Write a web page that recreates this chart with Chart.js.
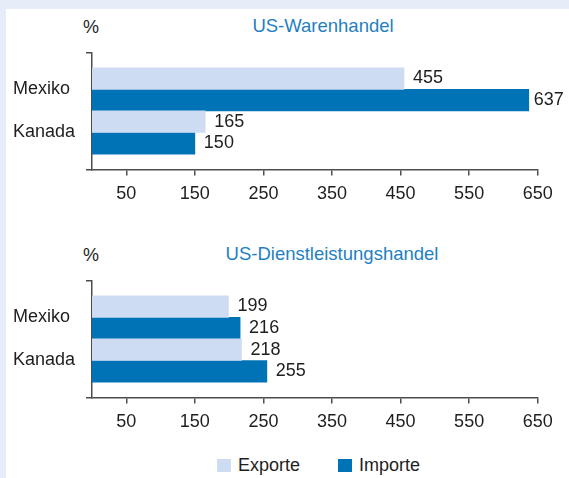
<!DOCTYPE html>
<html>
<head>
<meta charset="utf-8">
<script src="https://cdn.jsdelivr.net/npm/chart.js@4/dist/chart.umd.min.js"></script>
<style>
  html, body { margin: 0; padding: 0; }
  body { width: 569px; height: 478px; background: #e6edf9; position: relative; overflow: hidden;
         font-family: "Liberation Sans", Arial, sans-serif; color: #1e1e1e; }
  #panel { position: absolute; left: 6px; top: 9px; right: 0; bottom: 0; background: #ffffff; }
  canvas { position: absolute; left: 0; }
  .pct { position: absolute; left: 83px; font-size: 18px; line-height: 18px; color: #1e1e1e; }
  .ttl { position: absolute; width: 400px; text-align: center; font-size: 18.5px; line-height: 18.5px; color: #1f7fc1; }
  #legend { position: absolute; left: 217px; top: 456px; display: flex; align-items: center; font-size: 18px; line-height: 18px; }
  .item { display: flex; align-items: center; }
  .box { width: 14px; height: 13px; margin-right: 7px; }
</style>
</head>
<body>
<div id="panel"></div>
<div class="pct" style="top:18px">%</div>
<div class="ttl" style="top:17px; left:123px">US-Warenhandel</div>
<canvas id="c1" width="569" height="210" style="top:0px"></canvas>
<div class="pct" style="top:246px">%</div>
<div class="ttl" style="top:245px; left:132px">US-Dienstleistungshandel</div>
<canvas id="c2" width="569" height="210" style="top:228px"></canvas>
<div id="legend"></div>
<script>
// ---- data ----
const categories = ['Mexiko', 'Kanada'];
const seriesNames = ['Exporte', 'Importe'];
const warenExporte = [455, 165];
const warenImporte = [637, 150];
const dienstExporte = [199, 218];
const dienstImporte = [216, 255];
const xTickValues = [50, 150, 250, 350, 450, 550, 650];

// ---- style ----
const colExport = '#cddcf3';
const colImport = '#0073b7';
const axisColor = '#4d4d4d';
const textColor = '#1e1e1e';
const fontFam = '"Liberation Sans", Arial, sans-serif';
const yMin = 0.143, yMax = 2.857;

const valueLabels = {
  id: 'valueLabels',
  afterDatasetsDraw(chart) {
    const { ctx, chartArea } = chart;
    ctx.save();
    ctx.font = '18px ' + fontFam;
    ctx.fillStyle = textColor;
    ctx.textAlign = 'left';
    ctx.textBaseline = 'middle';
    chart.data.datasets.forEach((ds, di) => {
      chart.getDatasetMeta(di).data.forEach((bar, i) => {
        const x = Math.min(bar.x + 9, chartArea.right - 4);
        ctx.fillText(String(ds.data[i].x), x, bar.y);
      });
    });
    ctx.restore();
  }
};

function toPoints(values) {
  return categories.map((c, i) => ({ x: values[i], y: i + 1 }));
}

function makeChart(id, exp, imp) {
  return new Chart(document.getElementById(id), {
    type: 'bar',
    data: {
      datasets: [
        { label: seriesNames[0], data: toPoints(exp), backgroundColor: colExport, borderWidth: 0 },
        { label: seriesNames[1], data: toPoints(imp), backgroundColor: colImport, borderWidth: 0 }
      ]
    },
    options: {
      indexAxis: 'y',
      responsive: false,
      animation: false,
      events: [],
      barThickness: 21.6,
      layout: { padding: { top: 52.3, left: 13, right: 31.3, bottom: 0 } },
      plugins: { legend: { display: false }, tooltip: { enabled: false } },
      scales: {
        x: {
          type: 'linear', position: 'bottom', min: 0, max: 650, offset: false,
          afterBuildTicks: (s) => { s.ticks = xTickValues.map(v => ({ value: v })); },
          afterFit: (s) => { s.height = 40.5; },
          grid: { offset: false, drawOnChartArea: false, drawTicks: true, tickLength: 6, color: axisColor, lineWidth: 1.5 },
          border: { display: true, color: axisColor, width: 1.5 },
          ticks: { color: textColor, padding: 8, font: { family: fontFam, size: 18 }, maxRotation: 0, autoSkip: false }
        },
        y: {
          type: 'linear', position: 'left', reverse: true, min: yMin, max: yMax, offset: false,
          afterBuildTicks: (s) => { s.ticks = [yMin, 1, 2, yMax].map(v => ({ value: v })); },
          afterFit: (s) => { s.width = 79; },
          grid: {
            offset: false, drawOnChartArea: false, drawTicks: true, tickLength: 6, lineWidth: 1.5,
            color: (ctx) => (ctx.tick && Number.isInteger(ctx.tick.value)) ? 'rgba(0,0,0,0)' : axisColor
          },
          border: { display: true, color: axisColor, width: 1.5 },
          ticks: {
            color: textColor, crossAlign: 'far', autoSkip: false,
            font: { family: fontFam, size: 18 },
            callback: (v) => Number.isInteger(v) ? (categories[v - 1] || '') : ''
          }
        }
      }
    },
    plugins: [valueLabels]
  });
}

makeChart('c1', warenExporte, warenImporte);
const chart2 = makeChart('c2', dienstExporte, dienstImporte);

// HTML legend built from the chart's own legend items
const legendEl = document.getElementById('legend');
const items = chart2.options.plugins.legend.labels.generateLabels(chart2);
items.forEach((it, i) => {
  const item = document.createElement('div');
  item.className = 'item';
  if (i < items.length - 1) item.style.marginRight = '38px';
  const box = document.createElement('span');
  box.className = 'box';
  box.style.background = it.fillStyle;
  const txt = document.createElement('span');
  txt.textContent = it.text;
  item.appendChild(box); item.appendChild(txt);
  legendEl.appendChild(item);
});
</script>
</body>
</html>
